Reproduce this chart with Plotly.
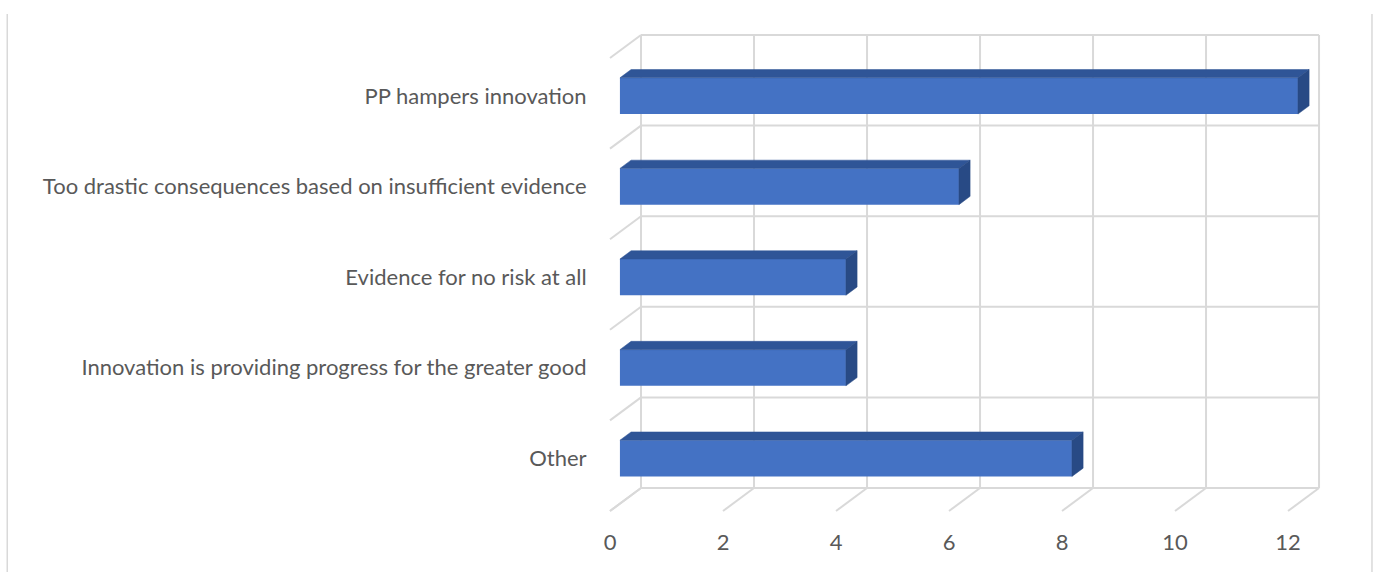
import plotly.graph_objects as go

# ---- data (bottom to top) ----
categories = [
    "Other",
    "Innovation is providing progress for the greater good",
    "Evidence for no risk at all",
    "Too drastic consequences based on insufficient evidence",
    "PP hampers innovation",
]
values = [8, 4, 4, 6, 12]
x_ticks = [0, 2, 4, 6, 8, 10, 12]

# ---- 3D emulation parameters (in axis units) ----
DX = 0.549   # depth shift along value axis
DY = 0.254   # depth shift along category axis
F1, F2 = 0.32, 0.68   # bar front/back depth fractions
BAR_W = 0.4

FRONT = "#4472C4"
TOP = "#2F5597"
SIDE = "#284A85"
GRID = "#D9D9D9"
TEXT = "#595959"

fig = go.Figure()

ys = [i + F1 * DY for i in range(len(categories))]
fig.add_trace(go.Bar(
    y=ys, x=values, base=[F1 * DX] * len(values), orientation="h",
    width=BAR_W, marker=dict(color=FRONT, line=dict(width=0)),
    hoverinfo="skip", showlegend=False,
))

ddx = (F2 - F1) * DX
ddy = (F2 - F1) * DY
for yc, v in zip(ys, values):
    x0 = F1 * DX
    x1 = v + F1 * DX
    yt = yc + BAR_W / 2
    yb = yc - BAR_W / 2
    # top face
    fig.add_trace(go.Scatter(
        x=[x0, x1, x1 + ddx, x0 + ddx, x0], y=[yt, yt, yt + ddy, yt + ddy, yt],
        fill="toself", fillcolor=TOP, mode="lines", line=dict(width=0.5, color=TOP),
        hoverinfo="skip", showlegend=False,
    ))
    # side face
    fig.add_trace(go.Scatter(
        x=[x1, x1 + ddx, x1 + ddx, x1, x1], y=[yt, yt + ddy, yb + ddy, yb, yt],
        fill="toself", fillcolor=SIDE, mode="lines", line=dict(width=0.5, color=SIDE),
        hoverinfo="skip", showlegend=False,
    ))

n = len(categories)
y_floor = -0.5
y_top = n - 0.5
shapes = []
gl = dict(color=GRID, width=2)
# back wall vertical gridlines
for t in x_ticks:
    shapes.append(dict(type="line", xref="x", yref="y", x0=t + DX, x1=t + DX,
                       y0=y_floor + DY, y1=y_top + DY, line=gl, layer="below"))
    # floor diagonals
    shapes.append(dict(type="line", xref="x", yref="y", x0=t + DX, x1=t,
                       y0=y_floor + DY, y1=y_floor, line=gl, layer="below"))
# back wall horizontal gridlines + left wall diagonals
for k in range(n + 1):
    yy = y_floor + k
    shapes.append(dict(type="line", xref="x", yref="y", x0=DX, x1=x_ticks[-1] + DX,
                       y0=yy + DY, y1=yy + DY, line=gl, layer="below"))
    shapes.append(dict(type="line", xref="x", yref="y", x0=DX, x1=0,
                       y0=yy + DY, y1=yy, line=gl, layer="below"))
# outer chart border (left / right)
for px in (-0.812, 1.0575):
    shapes.append(dict(type="line", xref="paper", yref="paper", x0=px, x1=px,
                       y0=1.033, y1=-0.2, line=dict(color=GRID, width=1.5), layer="below"))

fig.update_layout(
    width=1378, height=572,
    margin=dict(l=600, r=48, t=30, b=56),
    paper_bgcolor="white", plot_bgcolor="white",
    font=dict(family="Lato, Open Sans, sans-serif", size=22, color=TEXT),
    shapes=shapes,
    showlegend=False,
    xaxis=dict(range=[-0.177, 12.743], tickvals=x_ticks, ticktext=[str(t) for t in x_ticks],
               showgrid=False, zeroline=False, showline=False,
               ticks="outside", ticklen=7, tickcolor="rgba(0,0,0,0)", fixedrange=True),
    yaxis=dict(range=[-0.555, 4.809], tickvals=ys, ticktext=categories,
               showgrid=False, zeroline=False, showline=False,
               ticks="outside", ticklen=8, tickcolor="rgba(0,0,0,0)", fixedrange=True),
)

fig.write_html("out.html",
               config={"displayModeBar": False},
               post_script="document.body.style.margin='0px';document.body.style.overflow='hidden';")
